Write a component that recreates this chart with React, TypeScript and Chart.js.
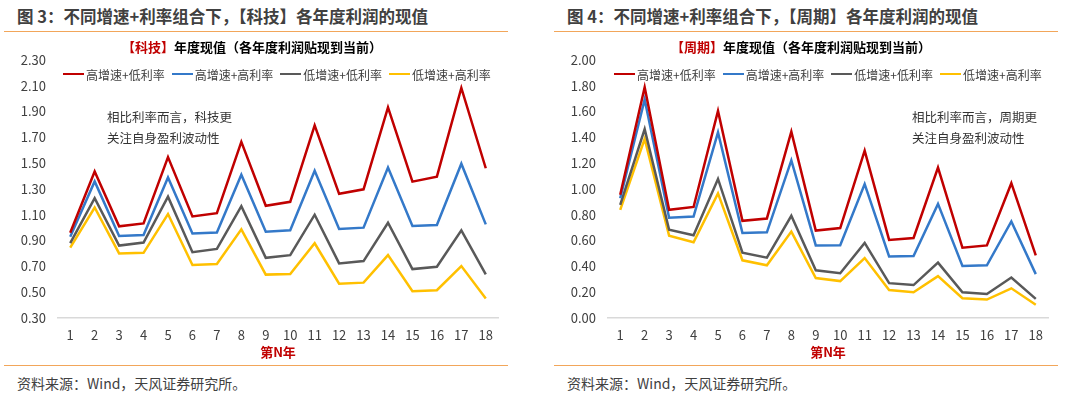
import React, { useEffect, useRef } from "react";
import { Chart, registerables } from "chart.js";

Chart.register(...registerables);

const FONT = '"Noto Sans CJK SC", "Noto Sans", sans-serif';

// ---------- data ----------
const YEARS = ["1","2","3","4","5","6","7","8","9","10","11","12","13","14","15","16","17","18"];
const SERIES_NAMES = ["高增速+低利率", "高增速+高利率", "低增速+低利率", "低增速+高利率"];
const SERIES_COLORS = ["#C00000", "#3479C9", "#595959", "#FFC000"];

const TECH_HG_LR = [0.96, 1.435, 1.01, 1.033, 1.546, 1.087, 1.112, 1.664, 1.169, 1.2, 1.792, 1.262, 1.297, 1.931, 1.356, 1.395, 2.082, 1.46];
const TECH_HG_HR = [0.93, 1.358, 0.935, 0.943, 1.389, 0.954, 0.962, 1.41, 0.969, 0.979, 1.441, 0.989, 1.0, 1.466, 1.012, 1.02, 1.495, 1.025];
const TECH_LG_LR = [0.88, 1.228, 0.861, 0.885, 1.24, 0.81, 0.835, 1.166, 0.766, 0.787, 1.1, 0.723, 0.741, 1.038, 0.679, 0.697, 0.979, 0.638];
const TECH_LG_HR = [0.845, 1.156, 0.8, 0.805, 1.105, 0.71, 0.718, 0.987, 0.636, 0.641, 0.879, 0.566, 0.574, 0.787, 0.508, 0.515, 0.702, 0.451];

const CYC_HG_LR = [0.955, 1.788, 0.838, 0.86, 1.604, 0.753, 0.771, 1.443, 0.677, 0.697, 1.297, 0.605, 0.62, 1.165, 0.544, 0.562, 1.044, 0.485];
const CYC_HG_HR = [0.927, 1.693, 0.776, 0.786, 1.438, 0.659, 0.664, 1.221, 0.562, 0.564, 1.037, 0.477, 0.48, 0.884, 0.403, 0.408, 0.748, 0.34];
const CYC_LG_LR = [0.876, 1.463, 0.684, 0.641, 1.077, 0.506, 0.467, 0.792, 0.37, 0.347, 0.582, 0.27, 0.255, 0.429, 0.199, 0.186, 0.314, 0.148];
const CYC_LG_HR = [0.838, 1.387, 0.638, 0.587, 0.965, 0.447, 0.408, 0.669, 0.309, 0.286, 0.464, 0.217, 0.199, 0.324, 0.153, 0.143, 0.23, 0.102];

const TECH_Y_TICKS = [0.3, 0.5, 0.7, 0.9, 1.1, 1.3, 1.5, 1.7, 1.9, 2.1, 2.3];
const CYC_Y_TICKS = [0, 0.2, 0.4, 0.6, 0.8, 1.0, 1.2, 1.4, 1.6, 1.8, 2.0];

const X_TITLE = "第N年";
const SOURCE = "资料来源：Wind，天风证券研究所。";

type PanelCfg = {
  left: number;
  shift: number;
  heading: string;
  tag: string;
  subtitleRest: string;
  subtitleCenter: number;
  note1: string;
  note2: string;
  noteLeft: number;
  legendLeft: number;
  series: number[][];
  yTicks: number[];
};

const PANELS: PanelCfg[] = [
  {
    left: 0,
    shift: 0,
    heading: "图 3：不同增速+利率组合下，【科技】各年度利润的现值",
    tag: "【科技】",
    subtitleRest: "年度现值（各年度利润贴现到当前）",
    subtitleCenter: 252,
    note1: "相比利率而言，科技更",
    note2: "关注自身盈利波动性",
    noteLeft: 107,
    legendLeft: 63,
    series: [TECH_HG_LR, TECH_HG_HR, TECH_LG_LR, TECH_LG_HR],
    yTicks: TECH_Y_TICKS,
  },
  {
    left: 540,
    shift: 10,
    heading: "图 4：不同增速+利率组合下，【周期】各年度利润的现值",
    tag: "【周期】",
    subtitleRest: "年度现值（各年度利润贴现到当前）",
    subtitleCenter: 261,
    note1: "相比利率而言，周期更",
    note2: "关注自身盈利波动性",
    noteLeft: 372,
    legendLeft: 74,
    series: [CYC_HG_LR, CYC_HG_HR, CYC_LG_LR, CYC_LG_HR],
    yTicks: CYC_Y_TICKS,
  },
];

const RULE = "#F2A65A";
const TEXT = "#404040";

function Panel({ cfg }: { cfg: PanelCfg }) {
  const ref = useRef<HTMLCanvasElement | null>(null);

  useEffect(() => {
    if (!ref.current) return;
    const yMin = cfg.yTicks[0];
    const yMax = cfg.yTicks[cfg.yTicks.length - 1];
    const chart = new Chart(ref.current, {
      type: "line",
      data: {
        labels: YEARS,
        datasets: cfg.series.map((d, i) => ({
          label: SERIES_NAMES[i],
          data: d,
          borderColor: SERIES_COLORS[i],
          backgroundColor: SERIES_COLORS[i],
          borderWidth: 2.5,
          pointRadius: 0,
          pointHoverRadius: 0,
          tension: 0,
          fill: false,
        })),
      },
      options: {
        responsive: false,
        animation: false,
        layout: { padding: { left: 0, right: 42 - cfg.shift, top: 18, bottom: 0 } },
        plugins: {
          legend: { display: false },
          title: { display: false },
          tooltip: { enabled: false },
        },
        scales: {
          x: {
            type: "category",
            offset: true,
            grid: { display: false, drawTicks: false },
            border: { display: true, color: "#D9D9D9", width: 1.5 },
            ticks: {
              color: TEXT,
              font: { family: FONT, size: 13 },
              padding: 9,
              maxRotation: 0,
              autoSkip: false,
            },
            title: {
              display: true,
              text: X_TITLE,
              color: "#C00000",
              font: { family: FONT, size: 13, weight: "bold" },
              padding: { top: 0, bottom: 0 },
            },
            afterFit: (s: any) => {
              s.height = 42;
            },
          },
          y: {
            min: yMin,
            max: yMax,
            grid: { display: false, drawTicks: false },
            border: { display: false },
            ticks: {
              color: TEXT,
              font: { family: FONT, size: 13 },
              padding: 12,
              callback: (v: any) => Number(v).toFixed(2),
            },
            afterBuildTicks: (s: any) => {
              s.ticks = cfg.yTicks.map((v) => ({ value: v }));
            },
            afterFit: (s: any) => {
              s.width = 58 + cfg.shift;
            },
          },
        },
      },
    } as any);
    return () => chart.destroy();
  }, [cfg]);

  return (
    <div style={{ position: "absolute", left: cfg.left, top: 0, width: 540, height: 394 }}>
      <div
        style={{
          position: "absolute",
          left: 17 + cfg.shift,
          top: 6,
          fontSize: 16.5,
          lineHeight: "20px",
          fontWeight: "bold",
          color: TEXT,
          whiteSpace: "nowrap",
          fontFamily: FONT,
        }}
      >
        {cfg.heading}
      </div>
      <div style={{ position: "absolute", left: 4 + cfg.shift, top: 30.5, width: 504, height: 1.5, background: RULE }} />
      <canvas
        ref={ref}
        width={540}
        height={320}
        style={{ position: "absolute", left: 0, top: 40, width: 540, height: 320 }}
      />
      <div
        style={{
          position: "absolute",
          left: cfg.subtitleCenter - 200,
          width: 400,
          top: 38,
          textAlign: "center",
          fontSize: 13,
          lineHeight: "18px",
          fontWeight: "bold",
          color: "#000",
          whiteSpace: "nowrap",
          fontFamily: FONT,
        }}
      >
        <span style={{ color: "#C00000" }}>{cfg.tag}</span>
        {cfg.subtitleRest}
      </div>
      <div
        style={{
          position: "absolute",
          left: cfg.legendLeft,
          top: 66,
          display: "flex",
          alignItems: "center",
          height: 16,
          fontSize: 12,
          color: TEXT,
          whiteSpace: "nowrap",
          fontFamily: FONT,
        }}
      >
        {SERIES_NAMES.map((n, i) => (
          <div key={n} style={{ display: "flex", alignItems: "center", marginRight: 7 }}>
            <div style={{ width: 21, height: 2.5, background: SERIES_COLORS[i], marginRight: 2 }} />
            <span>{n}</span>
          </div>
        ))}
      </div>
      <div
        style={{
          position: "absolute",
          left: cfg.noteLeft,
          top: 106,
          fontSize: 12.5,
          lineHeight: "21px",
          color: "#333",
          whiteSpace: "nowrap",
          fontFamily: FONT,
        }}
      >
        <div>{cfg.note1}</div>
        <div>{cfg.note2}</div>
      </div>
      <div style={{ position: "absolute", left: 4 + cfg.shift, top: 364.5, width: 504, height: 1.5, background: RULE }} />
      <div
        style={{
          position: "absolute",
          left: 17 + cfg.shift,
          top: 374,
          fontSize: 14,
          lineHeight: "18px",
          color: TEXT,
          whiteSpace: "nowrap",
          fontFamily: FONT,
        }}
      >
        {SOURCE}
      </div>
    </div>
  );
}

export default function App() {
  return (
    <div style={{ position: "absolute", left: 0, top: 0, width: 1080, height: 394, background: "#fff", overflow: "hidden" }}>
      {PANELS.map((p) => (
        <Panel key={p.heading} cfg={p} />
      ))}
    </div>
  );
}
